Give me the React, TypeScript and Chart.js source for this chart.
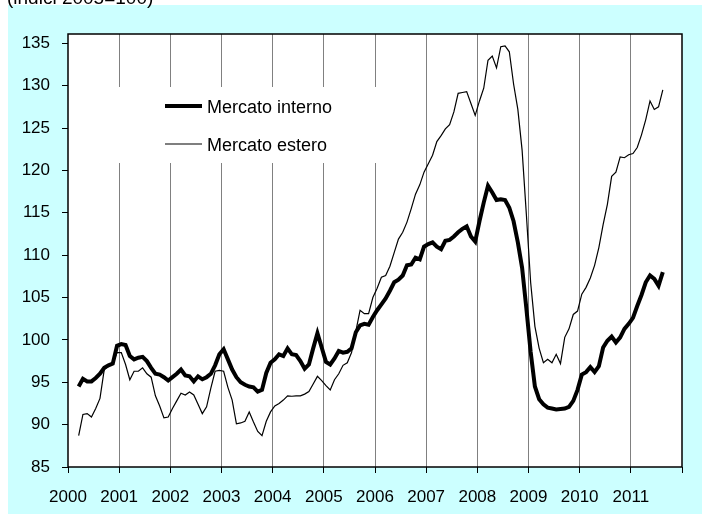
import React, { useEffect, useRef } from 'react';
import { Chart, registerables } from 'chart.js';

Chart.register(...registerables);

const TITLE = '(indici 2005=100)';
const START_YEAR = 2000;
const START_MONTH = 2; // March 2000 (0-based month)

const SERIES_LABELS = ['Mercato interno', 'Mercato estero'];

const MERCATO_INTERNO = [
  // 2000 (Mar-Dec)
  94.5, 95.4, 95.1, 95.1, 95.5, 96.0, 96.7, 97.0, 97.2, 99.3,
  // 2001
  99.5, 99.4, 98.1, 97.7, 97.9, 98.0, 97.5, 96.7, 96.0, 95.9, 95.6, 95.2,
  // 2002
  95.6, 96.0, 96.5, 95.8, 95.7, 95.1, 95.7, 95.35, 95.6, 96.0, 97.0, 98.3,
  // 2003
  98.9, 97.7, 96.5, 95.6, 95.0, 94.7, 94.5, 94.4, 93.9, 94.1, 96.1, 97.3,
  // 2004
  97.7, 98.3, 98.1, 99.0, 98.3, 98.2, 97.5, 96.6, 97.1, 99.0, 100.8, 99.1,
  // 2005
  97.4, 97.1, 97.8, 98.7, 98.5, 98.6, 99.0, 100.9, 101.7, 101.9, 101.8, 102.7,
  // 2006
  103.5, 104.2, 104.9, 105.8, 106.8, 107.1, 107.6, 108.8, 108.9, 109.7, 109.5, 111.0,
  // 2007
  111.3, 111.5, 111.0, 110.7, 111.7, 111.8, 112.2, 112.7, 113.1, 113.4, 112.2, 111.6,
  // 2008
  114.0, 116.2, 118.2, 117.4, 116.5, 116.6, 116.5, 115.6, 114.0, 111.5, 108.5, 103.7,
  // 2009
  98.6, 94.5, 93.0, 92.4, 92.0, 91.9, 91.8, 91.85, 91.9, 92.1, 92.8, 94.1,
  // 2010
  95.9, 96.2, 96.8, 96.2, 96.9, 99.1, 99.9, 100.4, 99.7, 100.3, 101.3, 101.9,
  // 2011 (Jan-Aug)
  102.6, 104.0, 105.3, 106.8, 107.6, 107.2, 106.4, 108.0,
];

const MERCATO_ESTERO = [
  // 2000 (Mar-Dec)
  88.7, 91.2, 91.3, 90.9, 91.9, 93.1, 96.5, 96.9, 97.2, 98.5,
  // 2001
  98.5, 97.1, 95.3, 96.3, 96.3, 96.7, 96.0, 95.6, 93.4, 92.2, 90.8, 90.9,
  // 2002
  91.9, 92.8, 93.7, 93.5, 93.85, 93.5, 92.4, 91.3, 92.1, 94.3, 96.3, 96.4,
  // 2003
  96.3, 94.4, 92.9, 90.1, 90.2, 90.4, 91.5, 90.3, 89.2, 88.7, 90.4, 91.5,
  // 2004
  92.2, 92.5, 92.9, 93.4, 93.35, 93.4, 93.4, 93.6, 93.9, 94.8, 95.7, 95.2,
  // 2005
  94.6, 94.1, 95.3, 96.0, 97.0, 97.3, 98.5, 101.0, 103.5, 103.1, 103.1, 105.0,
  // 2006
  106.1, 107.4, 107.6, 108.7, 110.3, 111.9, 112.7, 113.9, 115.5, 117.2, 118.3, 119.8,
  // 2007
  120.8, 121.8, 123.4, 124.1, 124.9, 125.4, 126.9, 129.1, 129.2, 129.3, 127.9, 126.5,
  // 2008
  128.2, 129.7, 133.0, 133.5, 132.1, 134.6, 134.7, 134.0, 130.2, 127.2, 122.4, 114.8,
  // 2009
  106.8, 101.6, 99.0, 97.3, 97.7, 97.3, 98.3, 97.2, 100.3, 101.3, 103.0, 103.4,
  // 2010
  105.4, 106.2, 107.3, 108.8, 110.9, 113.6, 116.0, 119.3, 119.8, 121.6, 121.5, 121.85,
  // 2011 (Jan-Aug)
  122.0, 122.7, 124.2, 126.0, 128.2, 127.2, 127.5, 129.5,
];

const Y_TICKS = [85, 90, 95, 100, 105, 110, 115, 120, 125, 130, 135];
const X_TICKS = [2000, 2001, 2002, 2003, 2004, 2005, 2006, 2007, 2008, 2009, 2010, 2011, 2012];
const X_LABELS = ['2000', '2001', '2002', '2003', '2004', '2005', '2006', '2007', '2008', '2009', '2010', '2011', ''];

const FONT = 'Arial, "Liberation Sans", Helvetica, sans-serif';

function toPoints(values: number[]) {
  return values.map((v, i) => ({ x: START_YEAR + (START_MONTH + i + 0.5) / 12, y: v }));
}

const decorPlugin = {
  id: 'decor',
  beforeDraw(chart: any) {
    const { ctx, chartArea } = chart;
    ctx.save();
    ctx.fillStyle = '#ffffff';
    ctx.fillRect(0, 0, chart.width, chart.height);
    ctx.fillStyle = '#ccffff';
    ctx.fillRect(8, 5, chart.width - 8, 509);
    ctx.fillStyle = '#ffffff';
    ctx.fillRect(chartArea.left, chartArea.top, chartArea.right - chartArea.left, chartArea.bottom - chartArea.top);
    ctx.fillStyle = '#000000';
    ctx.font = `19px ${FONT}`;
    ctx.textBaseline = 'alphabetic';
    ctx.textAlign = 'left';
    ctx.fillText(TITLE, 7, 3.5);
    ctx.restore();
  },
  beforeDatasetsDraw(chart: any) {
    const { ctx, chartArea } = chart;
    ctx.save();
    // legend box (white, hides the grid lines)
    ctx.fillStyle = '#ffffff';
    ctx.fillRect(110, 87, 280, 76);
    const ds = chart.data.datasets;
    const rows = [106, 144];
    ds.forEach((d: any, i: number) => {
      const y = rows[i];
      ctx.strokeStyle = '#000';
      ctx.lineWidth = d.borderWidth;
      ctx.beginPath();
      ctx.moveTo(165, y);
      ctx.lineTo(202, y);
      ctx.stroke();
      ctx.fillStyle = '#000';
      ctx.font = `18px ${FONT}`;
      ctx.textAlign = 'left';
      ctx.textBaseline = 'alphabetic';
      ctx.fillText(d.label, 207, y + 6.5);
    });
    // plot border
    ctx.strokeStyle = '#000';
    ctx.lineWidth = 1.5;
    ctx.strokeRect(chartArea.left, chartArea.top, chartArea.right - chartArea.left, chartArea.bottom - chartArea.top);
    ctx.restore();
  },
};

export default function App() {
  const ref = useRef<HTMLCanvasElement | null>(null);

  useEffect(() => {
    if (!ref.current) return;
    const chart = new Chart(ref.current, {
      type: 'line',
      data: {
        datasets: [
          {
            label: SERIES_LABELS[0],
            data: toPoints(MERCATO_INTERNO),
            borderColor: '#000000',
            borderWidth: 4,
            pointRadius: 0,
            tension: 0,
            fill: false,
          },
          {
            label: SERIES_LABELS[1],
            data: toPoints(MERCATO_ESTERO),
            borderColor: '#000000',
            borderWidth: 1.2,
            pointRadius: 0,
            tension: 0,
            fill: false,
          },
        ],
      },
      options: {
        animation: false,
        responsive: false,
        devicePixelRatio: 1,
        layout: { padding: { left: 8, top: 34, right: 20, bottom: 10 } },
        plugins: {
          legend: { display: false },
          tooltip: { enabled: false },
          title: { display: false },
        },
        scales: {
          x: {
            type: 'linear',
            min: 2000,
            max: 2012,
            afterBuildTicks: (scale: any) => {
              scale.ticks = X_TICKS.map((v) => ({ value: v }));
            },
            afterFit: (scale: any) => {
              scale.height = 40;
            },
            ticks: {
              autoSkip: false,
              maxRotation: 0,
              minRotation: 0,
              padding: 14,
              color: '#000',
              font: { family: FONT, size: 17 },
              callback: (v: any) => {
                const idx = X_TICKS.indexOf(Number(v));
                return idx >= 0 ? X_LABELS[idx] : '';
              },
            },
            grid: {
              display: true,
              drawOnChartArea: true,
              drawTicks: true,
              tickLength: 6,
              tickColor: '#000',
              lineWidth: 1,
              color: (c: any) =>
                c.tick && (c.tick.value === 2000 || c.tick.value === 2012) ? 'rgba(0,0,0,0)' : '#808080',
            },
            border: { display: false },
          },
          y: {
            type: 'linear',
            min: 85,
            max: 136.1,
            afterBuildTicks: (scale: any) => {
              scale.ticks = Y_TICKS.map((v) => ({ value: v }));
            },
            afterFit: (scale: any) => {
              scale.width = 60;
            },
            ticks: {
              padding: 12,
              color: '#000',
              font: { family: FONT, size: 17 },
              callback: (v: any) => String(v),
            },
            grid: {
              display: true,
              drawOnChartArea: false,
              drawTicks: true,
              tickLength: 6,
              tickColor: '#000',
              color: '#000',
            },
            border: { display: false },
          },
        },
      },
      plugins: [decorPlugin],
    });
    return () => chart.destroy();
  }, []);

  return (
    <div style={{ position: 'fixed', left: 0, top: 0, width: 702, height: 517, background: '#fff' }}>
      <canvas ref={ref} width={702} height={517} style={{ display: 'block', width: 702, height: 517 }} />
    </div>
  );
}
